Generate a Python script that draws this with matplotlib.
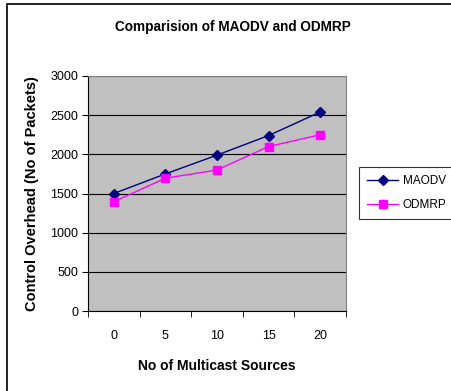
import matplotlib.pyplot as plt
from matplotlib.patches import Rectangle

plt.rcParams['font.family'] = ['Liberation Sans', 'DejaVu Sans']

# data
sources = ['0', '5', '10', '15', '20']
maodv = [1500, 1750, 1990, 2240, 2540]
odmrp = [1395, 1695, 1800, 2100, 2250]

fig = plt.figure(figsize=(4.51, 3.91), dpi=100)
fig.patches.append(Rectangle((7 / 451, -0.05), 1.2, 1 - 4 / 391 + 0.05,
                             transform=fig.transFigure, fill=False,
                             edgecolor='black', linewidth=1.2))

ax = fig.add_axes([88 / 451, 80 / 391, 258 / 451, 235 / 391])
ax.set_facecolor('#C0C0C0')
x = range(len(sources))
ax.plot(x, maodv, color='#000080', marker='D', markersize=5, linewidth=1, label='MAODV')
ax.plot(x, odmrp, color='#FF00FF', marker='s', markersize=6, linewidth=1, label='ODMRP')

ax.set_xlim(-0.5, 4.5)
ax.set_ylim(0, 3000)
ax.set_yticks(range(0, 3001, 500))
ax.set_xticks(x)
ax.set_xticklabels(sources)
ax.set_xticks([i + 0.5 for i in range(-1, 5)], minor=True)
ax.tick_params(axis='x', which='major', length=0, pad=14, labelsize=9)
ax.tick_params(axis='x', which='minor', length=4, direction='out')
ax.tick_params(axis='y', length=4, direction='out', labelsize=9, pad=3)
ax.grid(axis='y', color='black', linewidth=0.8)
ax.set_axisbelow(True)
for s in ['top', 'right']:
    ax.spines[s].set_color('#808080')
for s in ['left', 'bottom']:
    ax.spines[s].set_color('black')

ax.set_xlabel('No of Multicast Sources', fontweight='bold', fontsize=10, labelpad=12)
ax.set_ylabel('Control Overhead (No of Packets)', fontweight='bold', fontsize=10.5, labelpad=8)
fig.text(233 / 451, 1 - 27 / 391, 'Comparision of MAODV and ODMRP',
         ha='center', va='center', fontweight='bold', fontsize=9.8)

leg = ax.legend(loc='upper left', bbox_to_anchor=(359 / 451, 1 - 167 / 391),
                bbox_transform=fig.transFigure, fontsize=8.5,
                frameon=True, fancybox=False, edgecolor='black',
                handlelength=2.6, borderpad=0.7, handletextpad=0.4,
                labelspacing=1.0, borderaxespad=0)
leg.get_frame().set_linewidth(0.8)

fig.savefig('out.png', dpi=100)
